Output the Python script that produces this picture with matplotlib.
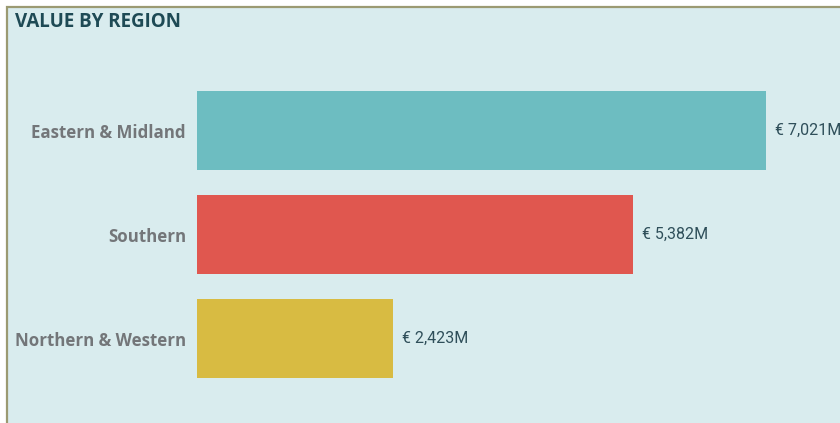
import matplotlib.pyplot as plt
from matplotlib.patches import Rectangle

# data
regions = ['Eastern & Midland', 'Southern', 'Northern & Western']
values = [7.021, 5.382, 2.423]  # million euro
bar_colors = ['#6dbdc1', '#e0574f', '#d8bb42']

W, H = 840, 423
fig = plt.figure(figsize=(W / 100, H / 100), dpi=100, facecolor='white')

# card background with border (runs off the right / bottom edge)
fig.patches.append(Rectangle((7 / W, -0.05), 1.1, (H - 7) / H + 0.05,
                             transform=fig.transFigure, facecolor='#d9ecee',
                             edgecolor='#9b9a72', linewidth=1.6, zorder=-10))

fig.text(15 / W, 1 - 22 / H, 'VALUE BY REGION', fontsize=13.5, fontweight='bold',
         color='#1e4a55', va='center', ha='left', family='Open Sans')

# axes placed so the bars land where they do in the card
ax = fig.add_axes([197 / W, (H - 390.5) / H, (W - 197) / W, 312 / H])
ax.set_facecolor('none')
px_per_unit = 569 / 7.021
ax.set_xlim(0, (W - 197) / px_per_unit)
ax.set_ylim(2.5, -0.5)

ypos = list(range(len(regions)))
ax.barh(ypos, values, height=0.76, color=bar_colors)

for y, v in zip(ypos, values):
    ax.text(v + 9 / px_per_unit, y, f'€ {v:,.3f}M'.replace('.', ','),
            va='center', ha='left', fontsize=11.5, color='#2f4f5a',
            family='Roboto', clip_on=False)

ax.set_yticks(ypos)
ax.set_yticklabels(regions, fontsize=12.2, fontweight='bold', color='#737679',
                   family='Open Sans')
ax.tick_params(axis='y', length=0, pad=8)
ax.set_xticks([])
for s in ax.spines.values():
    s.set_visible(False)

fig.savefig('out.png', dpi=100, facecolor='white')
